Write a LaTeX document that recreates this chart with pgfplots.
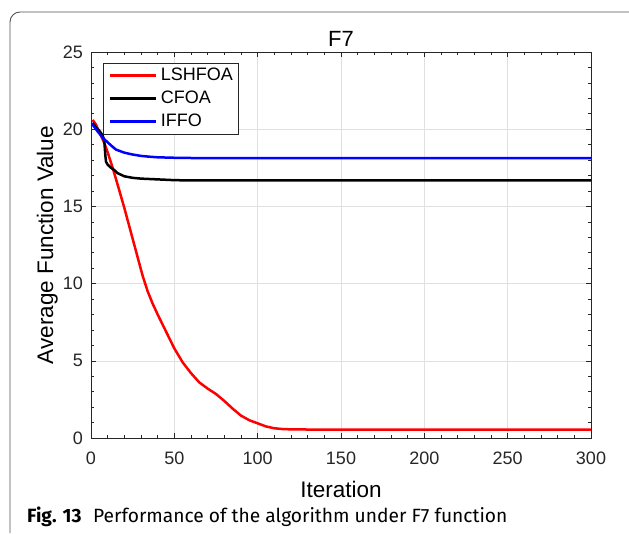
\documentclass[border=0pt]{standalone}
\usepackage{fontspec}
\setmainfont{Liberation Sans}
\newfontfamily\capfont{Fira Sans}
\usepackage{pgfplots}
\pgfplotsset{compat=1.18}

\definecolor{axgray}{gray}{0.15}

\begin{document}
\begin{tikzpicture}
\useasboundingbox (0pt,0pt) rectangle (629pt,-533pt);
% figure frame (left and top edges)
\draw[axgray!80, line width=0.9pt, rounded corners=10pt] (10pt,-533pt) -- (10pt,-12pt) -- (629pt,-12pt);

\begin{axis}[
    at={(91pt,-438pt)}, anchor=south west,
    width=500pt, height=386pt, scale only axis,
    xmin=0, xmax=300, ymin=0, ymax=25,
    xtick={0,50,...,300}, ytick={0,5,...,25},
    minor x tick num=4, minor y tick num=4,
    tick align=inside,
    major tick length=5pt, minor tick length=3pt,
    every tick/.style={axgray, line width=0.6pt},
    grid=major,
    grid style={black!12, line width=0.5pt},
    axis line style={axgray, line width=0.8pt},
    /pgf/number format/assume math mode=true,
    tick label style={font=\fontsize{18}{18}\selectfont, text=axgray, inner sep=0pt},
    xticklabel shift=14pt, yticklabel shift=8pt,
    legend style={at={(rel axis cs:0,1)}, anchor=north west,
        xshift=12pt, yshift=-11pt,
        draw=axgray, fill=white,
        font=\fontsize{18}{18}\selectfont,
        inner xsep=5pt, inner ysep=4pt, row sep=6pt,
        nodes={inner sep=0pt, text height=13pt, text depth=4pt}},
    legend cell align=left,
    legend image post style={line width=2.6pt},
    legend image code/.code={\draw[#1] (0pt,0pt) -- (46pt,0pt); \path (50pt,0pt);},
]
\addplot[red, line width=2.5pt] coordinates {
    (1,20.6) (3,20.3) (5,19.8) (8,19.1) (10,18.5) (13,17.5) (16,16.4) (20,14.9)
    (24,13.3) (28,11.7) (31,10.5) (34,9.5) (37,8.7) (40,8.0) (45,6.9) (50,5.8)
    (55,4.9) (60,4.2) (65,3.6) (70,3.2) (75,2.85) (80,2.4) (85,1.9) (90,1.45)
    (95,1.15) (100,0.95) (105,0.75) (110,0.63) (115,0.58) (120,0.56) (130,0.55)
    (300,0.55)
};
\addlegendentry{LSHFOA}
\addplot[black, line width=2.5pt] coordinates {
    (1,20.4) (3,20.1) (5,19.9) (7,19.6) (8,19.2) (8.6,18.3) (9,17.9) (10,17.7)
    (12,17.5) (14,17.35) (16,17.15) (18,17.05) (20,16.95) (25,16.85) (30,16.8)
    (40,16.75) (50,16.7) (60,16.68) (300,16.68)
};
\addlegendentry{CFOA}
\addplot[blue, line width=2.5pt] coordinates {
    (0,20.4) (2,20.15) (4,19.85) (6,19.6) (8,19.35) (10,19.15) (12,18.95)
    (15,18.68) (20,18.48) (25,18.36) (30,18.27) (35,18.22) (40,18.18) (50,18.15)
    (70,18.12) (300,18.12)
};
\addlegendentry{IFFO}
\end{axis}

% title and axis labels
\node[anchor=base, font=\fontsize{22}{22}\selectfont] at (341pt,-46pt) {F7};
\node[anchor=base, font=\fontsize{22.5}{22.5}\selectfont] at (341pt,-497pt) {Iteration};
\node[anchor=base, rotate=90, font=\fontsize{22.5}{22.5}\selectfont] at (53pt,-245pt) {Average Function Value};

% caption
\node[anchor=base west, inner sep=0pt, font=\capfont\fontsize{19.2}{19.2}\selectfont] at (27pt,-522pt)
    {\textbf{Fig. 13}\hspace{0.6em}Performance of the algorithm under F7 function};
\end{tikzpicture}
\end{document}
